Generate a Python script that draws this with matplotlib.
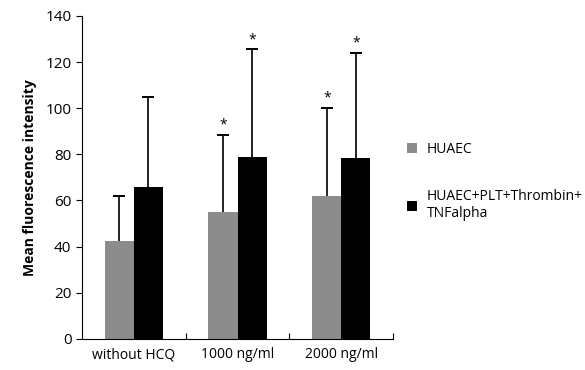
import matplotlib
matplotlib.use("Agg")
import matplotlib.pyplot as plt
import numpy as np

categories = ["without HCQ", "1000 ng/ml", "2000 ng/ml"]
series_names = ["HUAEC", "HUAEC+PLT+Thrombin+\nTNFalpha"]
huaec = [42.5, 55, 62]
huaec_err = [19.5, 33.5, 38]
stim = [66, 79, 78.5]
stim_err = [39, 46.5, 45.5]
huaec_sig = [False, True, True]
stim_sig = [False, True, True]
colors = ["#8c8c8c", "#000000"]

plt.rcParams['font.family'] = ['Open Sans', 'DejaVu Sans']

fig = plt.figure(figsize=(5.85, 3.7), dpi=100)
ax = fig.add_axes([0.140, 0.084, 0.532, 0.873])

x = np.arange(len(categories))
w = 0.28
for vals, errs, sig, col, name, off in [
    (huaec, huaec_err, huaec_sig, colors[0], series_names[0], -w / 2),
    (stim, stim_err, stim_sig, colors[1], series_names[1], w / 2)]:
    xs = x + off
    vals = np.array(vals)
    errs = np.array(errs)
    ax.bar(xs, vals, w, color=col, label=name, zorder=2)
    ax.vlines(xs, vals, vals + errs, color='black', linewidth=1.2, zorder=3)
    ax.plot(xs, vals + errs, linestyle='none', marker='_', markersize=8,
            markeredgewidth=1.4, color='black', zorder=3)
    for xi, v, e, s in zip(xs, vals, errs, sig):
        if s:
            ax.text(xi, v + e + 1.0, "*", ha='center', va='bottom', fontsize=10)

ax.set_xlim(-0.5, 2.5)
ax.set_ylim(0, 140)
ax.set_yticks(range(0, 141, 20))
ax.set_xticks([0.5, 1.5, 2.5])
ax.set_xticklabels([])
ax.set_xticks(x, minor=True)
ax.set_xticklabels(categories, minor=True, fontsize=10)
ax.tick_params(axis='x', which='minor', length=0, pad=6)
ax.tick_params(axis='x', which='major', direction='in', length=4, width=0.8)
ax.tick_params(axis='y', direction='out', length=4, width=0.8, labelsize=11)
ax.spines['top'].set_visible(False)
ax.spines['right'].set_visible(False)
ax.set_ylabel("Mean fluorescence intensity", fontsize=10, fontweight='bold', labelpad=6)

leg = fig.legend(loc='upper left', bbox_to_anchor=(0.675, 0.65), frameon=False,
                 fontsize=10, handlelength=0.7, handleheight=0.7,
                 labelspacing=2.3, handletextpad=0.7)

fig.savefig("out.png", dpi=100)
